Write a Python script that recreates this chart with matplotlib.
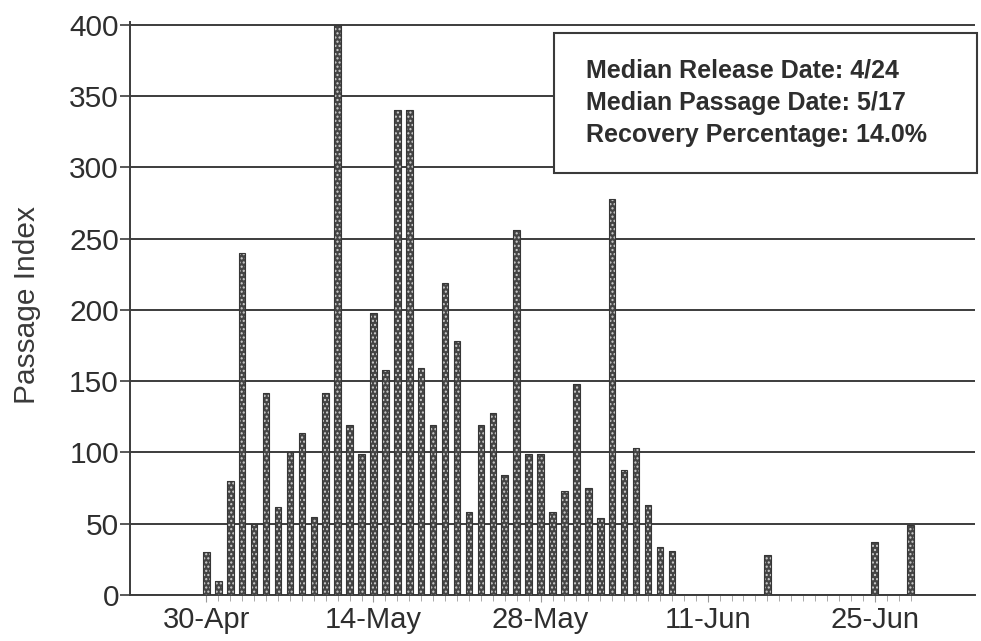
import numpy as np
import matplotlib
matplotlib.use("Agg")
import matplotlib.pyplot as plt

plt.rcParams['font.family'] = ['Liberation Sans', 'DejaVu Sans']

# Daily passage index, one value per day starting 30-Apr
passage_index = [30, 10, 80, 240, 50, 142, 62, 100, 114, 55,
                 142, 400, 119, 99, 198, 158, 340, 340, 159, 119,
                 219, 178, 58, 119, 128, 84, 256, 99, 99, 58,
                 73, 148, 75, 54, 278, 88, 103, 63, 34, 31,
                 0, 0, 0, 0, 0, 0, 0, 28, 0, 0,
                 0, 0, 0, 0, 0, 0, 37, 0, 0, 49]
tick_days = [0, 14, 28, 42, 56]
tick_labels = ['30-Apr', '14-May', '28-May', '11-Jun', '25-Jun']
summary = ['Median Release Date: 4/24',
           'Median Passage Date: 5/17',
           'Recovery Percentage: 14.0%']

days = np.arange(len(passage_index))
ink = '#2e2e2e'
W, H = 981, 641

fig = plt.figure(figsize=(W / 100, H / 100), dpi=100)
ax = fig.add_axes([130 / W, 46 / H, 845 / W, 573 / H])

# dark bars with a light dotted fill, then a thin outline on top
ax.bar(days, passage_index, width=0.55, color='#444444', edgecolor='#d0d0d0',
       linewidth=0, hatch='....', zorder=3)
ax.bar(days, passage_index, width=0.55, fill=False, edgecolor='#363636',
       linewidth=0.8, zorder=4)

ax.set_xlim(-6.4, 64.4)
ax.set_ylim(0, 402)
ax.set_yticks(np.arange(0, 401, 50))
ax.yaxis.grid(True, color='#3c3c3c', linewidth=1.4, zorder=1)
ax.set_axisbelow(True)

ax.set_xticks(tick_days)
ax.set_xticklabels(tick_labels)
ax.set_xticks(days, minor=True)
ax.tick_params(axis='x', which='major', length=5, width=0.8, color='#999999',
               labelsize=21, labelcolor=ink, pad=3)
ax.tick_params(axis='x', which='minor', length=4, width=0.7, color='#aaaaaa')
ax.tick_params(axis='y', length=7, width=1.2, color='#3c3c3c',
               labelsize=21.5, labelcolor=ink, pad=1)

for side in ['top', 'right']:
    ax.spines[side].set_visible(False)
for side in ['left', 'bottom']:
    ax.spines[side].set_color('#3c3c3c')
    ax.spines[side].set_linewidth(1.4)

fig.text(27 / W, 1 - 305 / H, 'Passage Index', fontsize=21.5, color='#3a3a3a',
         rotation=90, ha='center', va='center')

# summary box in the upper right
box = plt.Rectangle((554 / W, 1 - 173 / H), 423 / W, 140 / H,
                    transform=fig.transFigure, facecolor='white',
                    edgecolor='#3a3a3a', linewidth=1.5, zorder=5)
fig.patches.append(box)
for i, line in enumerate(summary):
    fig.text(586 / W, 1 - (77.5 + 32.2 * i) / H, line, fontsize=18,
             fontweight='bold', color=ink, va='baseline', ha='left', zorder=6)

fig.savefig('out.png', dpi=100)
